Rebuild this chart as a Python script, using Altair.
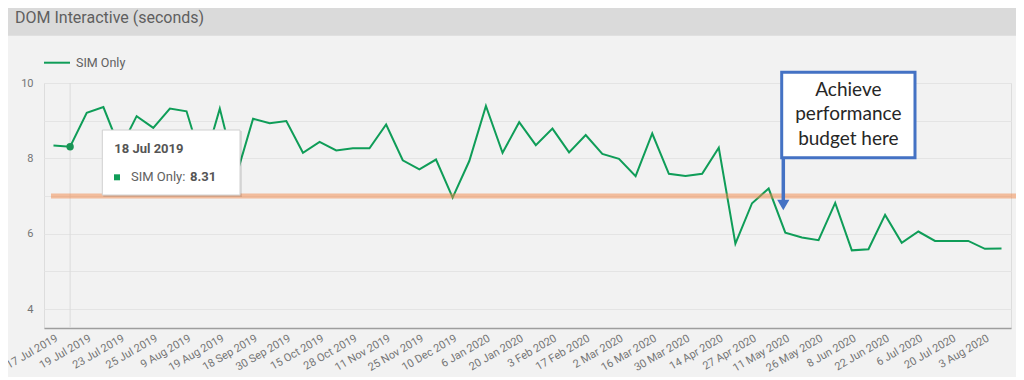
import altair as alt
import pandas as pd

# ---------------- data ----------------
dates = [
    "17 Jul 2019", "18 Jul 2019", "19 Jul 2019", "22 Jul 2019", "23 Jul 2019",
    "24 Jul 2019", "25 Jul 2019", "1 Aug 2019", "9 Aug 2019", "14 Aug 2019",
    "19 Aug 2019", "2 Sep 2019", "18 Sep 2019", "23 Sep 2019", "30 Sep 2019",
    "7 Oct 2019", "15 Oct 2019", "21 Oct 2019", "28 Oct 2019", "4 Nov 2019",
    "11 Nov 2019", "18 Nov 2019", "25 Nov 2019", "2 Dec 2019", "10 Dec 2019",
    "16 Dec 2019", "6 Jan 2020", "13 Jan 2020", "20 Jan 2020", "27 Jan 2020",
    "3 Feb 2020", "10 Feb 2020", "17 Feb 2020", "24 Feb 2020", "2 Mar 2020",
    "9 Mar 2020", "16 Mar 2020", "23 Mar 2020", "30 Mar 2020", "6 Apr 2020",
    "14 Apr 2020", "20 Apr 2020", "27 Apr 2020", "4 May 2020", "11 May 2020",
    "18 May 2020", "26 May 2020", "1 Jun 2020", "8 Jun 2020", "15 Jun 2020",
    "22 Jun 2020", "29 Jun 2020", "6 Jul 2020", "13 Jul 2020", "20 Jul 2020",
    "27 Jul 2020", "3 Aug 2020", "10 Aug 2020",
]
sim_only = [
    8.34, 8.31, 9.21, 9.36, 8.25, 9.12, 8.81, 9.32, 9.25, 7.80,
    9.32, 7.55, 9.05, 8.93, 8.99, 8.15, 8.44, 8.21, 8.27, 8.27,
    8.90, 7.95, 7.71, 7.97, 6.96, 7.93, 9.39, 8.15, 8.96, 8.35,
    8.79, 8.16, 8.62, 8.12, 7.99, 7.53, 8.66, 7.59, 7.53, 7.59,
    8.28, 5.74, 6.81, 7.20, 6.03, 5.90, 5.83, 6.82, 5.56, 5.59,
    6.50, 5.76, 6.06, 5.81, 5.81, 5.81, 5.60, 5.61,
]
tick_labels = dates[::2]
y_ticks = [4, 5, 6, 7, 8, 9, 10]
budget = [7.0]
series_name = "SIM Only"
chart_title = "DOM Interactive (seconds)"
annotation_text = ["Achieve", "performance", "budget here"]
hover_index = 1

# ---------------- layout constants ----------------
W, H = 967, 245
PAD = {"left": 36, "top": 75, "right": 5, "bottom": 49}
GREEN = "#0f9d58"
BLUE = "#4472c4"
TEXT = "#616161"

df = pd.DataFrame({"date": dates, "value": sim_only})
one = pd.DataFrame({"k": [0]})

x_enc = alt.X(
    "date:N",
    sort=dates,
    scale=alt.Scale(type="point", padding=0.57),
    axis=alt.Axis(
        values=tick_labels, title=None, labelAngle=330, labelAlign="right",
        labelBaseline="top", labelFontSize=11, labelColor="#757575",
        labelPadding=4, labelOverlap=False, ticks=False, grid=False,
        domainColor="#9e9e9e", domainWidth=1.5, labelFont="Roboto",
    ),
)
y_scale = alt.Scale(domain=[3.5, 10], nice=False, zero=False)
y_enc = alt.Y(
    "value:Q",
    scale=y_scale,
    axis=alt.Axis(
        values=y_ticks, title=None, labelExpr="datum.value % 2 == 0 ? datum.label : ''",
        grid=True, gridColor="#e4e4e4", domain=False, ticks=False,
        labelPadding=11, labelFontSize=11, labelColor="#757575", labelFont="Roboto",
    ),
)

# title bar + title
title_bar = alt.Chart(one).mark_rect(color="#dadada").encode(
    x=alt.value(-PAD["left"]), x2=alt.value(W + PAD["right"]),
    y=alt.value(-PAD["top"]), y2=alt.value(-47.3),
)
title_txt = alt.Chart(one).mark_text(
    align="left", baseline="middle", fontSize=16, font="Roboto", color="#5f5f5f"
).encode(x=alt.value(-29), y=alt.value(-65.5), text=alt.value(chart_title))

# legend
leg_line = alt.Chart(one).mark_rule(color=GREEN, strokeWidth=2).encode(
    x=alt.value(0), x2=alt.value(26), y=alt.value(-20.3)
)
leg_txt = alt.Chart(one).mark_text(
    align="left", baseline="middle", fontSize=12.5, font="Roboto", color=TEXT
).encode(x=alt.value(32), y=alt.value(-20), text=alt.value(series_name))

# hover crosshair
hover_df = pd.DataFrame({"date": [dates[hover_index]], "value": [sim_only[hover_index]]})
hover_rule = alt.Chart(hover_df).mark_rule(color="#dcdcdc", strokeWidth=1).encode(
    x=alt.X("date:N", sort=dates), y=alt.value(0), y2=alt.value(H)
)

line = alt.Chart(df).mark_line(color=GREEN, strokeWidth=2).encode(x=x_enc, y=y_enc)

hover_pt = alt.Chart(hover_df).mark_point(
    filled=True, color="#1a9455", size=55, opacity=1
).encode(x=alt.X("date:N", sort=dates), y=alt.Y("value:Q", scale=y_scale))

budget_rule = alt.Chart(pd.DataFrame({"b": budget})).mark_rule(
    color="#f28646", strokeWidth=5, opacity=0.5
).encode(y=alt.Y("b:Q", scale=y_scale), x=alt.value(7), x2=alt.value(W + PAD["right"]))

# static tooltip
tt_x0, tt_x1, tt_y0, tt_y1 = 58.3, 196, 47, 112
tt_shadow = alt.Chart(one).mark_rect(color="#000000", opacity=0.10).encode(
    x=alt.value(tt_x0 + 1), x2=alt.value(tt_x1 + 2), y=alt.value(tt_y0 + 1), y2=alt.value(tt_y1 + 2)
)
tt_box = alt.Chart(one).mark_rect(fill="#ffffff", stroke="#d0d0d0", strokeWidth=1).encode(
    x=alt.value(tt_x0), x2=alt.value(tt_x1), y=alt.value(tt_y0), y2=alt.value(tt_y1)
)
tt_date = alt.Chart(one).mark_text(
    align="left", baseline="middle", fontSize=13, font="Roboto", fontWeight="bold", color="#555555"
).encode(x=alt.value(70.3), y=alt.value(66.3), text=alt.value(dates[hover_index]))
tt_sq = alt.Chart(one).mark_point(shape="square", filled=True, color=GREEN, size=36, opacity=1).encode(
    x=alt.value(73), y=alt.value(94.3)
)
tt_lbl = alt.Chart(one).mark_text(
    align="left", baseline="middle", fontSize=13, font="Roboto", color=TEXT
).encode(x=alt.value(87), y=alt.value(94.3), text=alt.value(series_name + ":"))
tt_val = alt.Chart(one).mark_text(
    align="left", baseline="middle", fontSize=13, font="Roboto", fontWeight="bold", color="#555555"
).encode(x=alt.value(146), y=alt.value(94.3), text=alt.value(f"{sim_only[hover_index]:.2f}"))

# annotation box + arrow
bx0, bx1, by0, by1 = 737.7, 871, -10.7, 74.7
ann_box = alt.Chart(one).mark_rect(fill="#ffffff", stroke=BLUE, strokeWidth=3).encode(
    x=alt.value(bx0), x2=alt.value(bx1), y=alt.value(by0), y2=alt.value(by1)
)
ann_txt = alt.Chart(one).mark_text(
    align="center", baseline="alphabetic", fontSize=19, font="Lato", color="#262626",
    lineBreak="\n", lineHeight=24.8,
).encode(x=alt.value((bx0 + bx1) / 2), y=alt.value(12.7), text=alt.value("\n".join(annotation_text)))
arrow_shaft = alt.Chart(one).mark_rule(color=BLUE, strokeWidth=3.5).encode(
    x=alt.value(739.3), y=alt.value(by1), y2=alt.value(117)
)
arrow_head = alt.Chart(one).mark_point(
    shape="triangle-down", filled=True, color=BLUE, size=150, opacity=1
).encode(x=alt.value(739.3), y=alt.value(122))

chart = alt.layer(
    title_bar, title_txt, leg_line, leg_txt, hover_rule, line, budget_rule, hover_pt,
    tt_shadow, tt_box, tt_date, tt_sq, tt_lbl, tt_val,
    ann_box, ann_txt, arrow_shaft, arrow_head,
).properties(
    width=W, height=H,
    autosize=alt.AutoSizeParams(type="none"),
    padding=PAD,
    background="#f2f2f2",
).configure_view(stroke=None).configure(font="Roboto")

chart.save("out.html", embed_options={"renderer": "svg", "actions": False})
